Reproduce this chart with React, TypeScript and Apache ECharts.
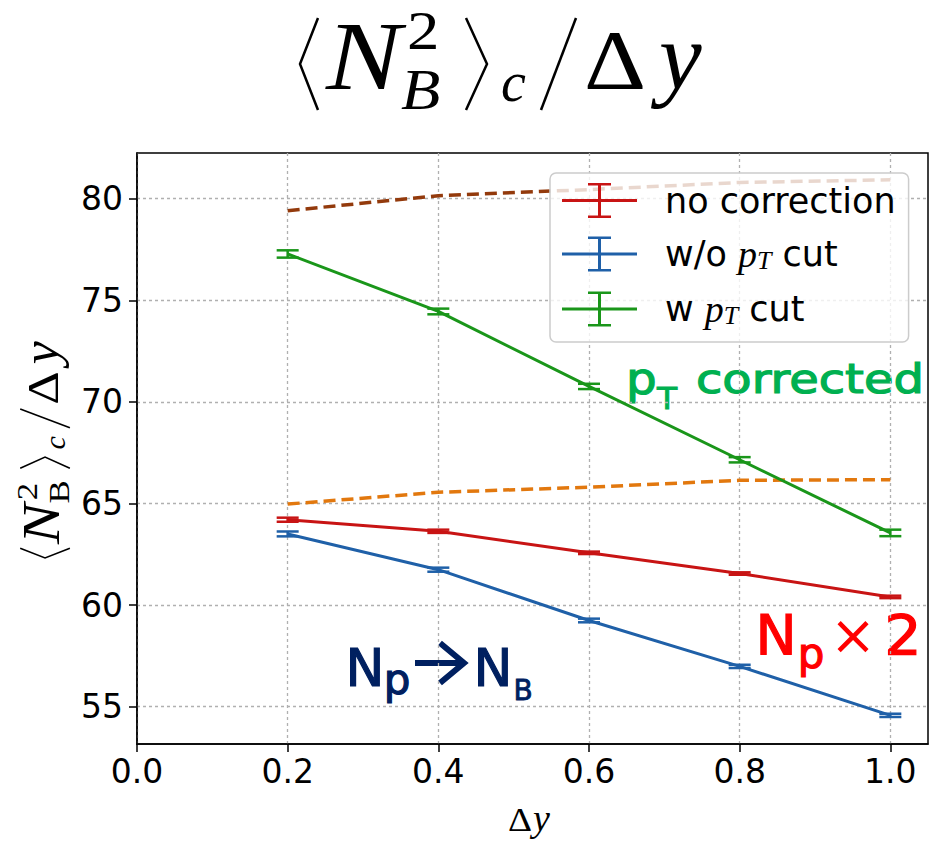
import React, { useEffect, useRef } from 'react';
import * as echarts from 'echarts';

// ---- data ----
const dy = [0.2, 0.4, 0.6, 0.8, 1.0];
const noCorrection = [64.2, 63.63, 62.57, 61.55, 60.4];
const noCorrectionErr = [0.1, 0.08, 0.06, 0.06, 0.06];
const woCut = [63.5, 61.74, 59.24, 56.98, 54.57];
const woCutErr = [0.12, 0.1, 0.09, 0.08, 0.08];
const wCut = [77.28, 74.45, 70.76, 67.15, 63.55];
const wCutErr = [0.18, 0.14, 0.13, 0.13, 0.16];
const dashedOrange = [64.97, 65.55, 65.8, 66.14, 66.17];
const dashedBrown = [79.41, 80.15, 80.45, 80.8, 80.93];
const xTicks = [0, 0.2, 0.4, 0.6, 0.8, 1.0];
const yTicks = [55, 60, 65, 70, 75, 80];
const legendNames = ['no correction', 'w/o pT cut', 'w pT cut'];

const RED = '#c81414';
const BLUE = '#1f60a8';
const GREEN = '#1a961a';
const ORANGE = '#e2780e';
const BROWN = '#933a0c';

const ERR_ICON =
  'path://M0,16L75,16L75,19L0,19Z M36,0L39,0L39,35L36,35Z M26,0L49,0L49,2.5L26,2.5Z M26,32.5L49,32.5L49,35L26,35Z';

const SERIF = 'Liberation Serif';
const SANS = 'DejaVu Sans';

function lineSeries(name: string, values: number[], color: string, z: number, dashed = false) {
  return {
    type: 'line',
    name,
    data: dy.map((x, i) => [x, values[i]]),
    showSymbol: false,
    symbol: 'none',
    silent: true,
    z,
    itemStyle: { color },
    lineStyle: dashed ? { color, width: 3.5, type: [12, 6] } : { color, width: 3 },
  };
}

function errSeries(name: string, values: number[], errs: number[], color: string, z: number) {
  return {
    type: 'custom',
    name,
    z,
    silent: true,
    data: dy.map((x, i) => [x, values[i], errs[i]]),
    encode: { x: 0, y: 1 },
    renderItem: (_params: any, api: any) => {
      const x = api.value(0);
      const y = api.value(1);
      const e = api.value(2);
      const t = api.coord([x, y + e]);
      const b = api.coord([x, y - e]);
      const hw = 11;
      const st = { stroke: color, lineWidth: 2.5 };
      return {
        type: 'group',
        children: [
          { type: 'line', shape: { x1: t[0], y1: t[1], x2: b[0], y2: b[1] }, style: st },
          { type: 'line', shape: { x1: t[0] - hw, y1: t[1], x2: t[0] + hw, y2: t[1] }, style: st },
          { type: 'line', shape: { x1: b[0] - hw, y1: b[1], x2: b[0] + hw, y2: b[1] }, style: st },
        ],
      };
    },
  };
}

function txt(
  text: string,
  x: number,
  baseline: number,
  size: number,
  opts: {
    italic?: boolean; family?: string; color?: string; bold?: boolean; align?: string; scaleX?: number; strokeW?: number;
  } = {}
) {
  const fill = opts.color ?? '#000';
  const style: any = {
    text,
    fontSize: size,
    fontFamily: opts.family ?? SERIF,
    fontStyle: opts.italic ? 'italic' : 'normal',
    fontWeight: opts.bold ? 'bold' : 'normal',
    fill,
    align: opts.align ?? 'left',
    verticalAlign: 'middle',
  };
  if (opts.strokeW) {
    style.stroke = fill;
    style.lineWidth = opts.strokeW;
  }
  return { type: 'text', x, y: baseline - 0.33 * size, scaleX: opts.scaleX ?? 1, style };
}

function pl(points: number[][], lw: number, color = '#000') {
  return { type: 'polyline', shape: { points }, style: { stroke: color, lineWidth: lw, fill: null } };
}

// <N_B^2>_c / Δy laid out around baseline y = 0
function formula(romanB: boolean, lw: number) {
  return [
    pl([[18, -70], [0, -24], [18, 22]], lw),
    txt('N', 26, 0, 98, { italic: true, scaleX: 1.15 }),
    txt('2', 107, -39, 54, { scaleX: 1.2 }),
    txt('B', 101, 20, 56, { italic: !romanB, scaleX: 1.15 }),
    pl([[166, -70], [187, -24], [166, 22]], lw),
    txt('c', 201, 12, 56, { italic: true }),
    pl([[241, 22], [276, -70]], lw),
    txt('Δ', 284, 0, 84, { scaleX: 1.15 }),
    txt('y', 359, 0, 96, { italic: true }),
  ];
}

const axisCommon = {
  axisLine: { show: true, onZero: false, lineStyle: { color: '#000', width: 1.5 } },
  splitLine: { show: true, lineStyle: { color: '#b0b0b0', width: 1.3, type: [3, 3] } },
};

export default function App() {
  const ref = useRef<HTMLDivElement>(null);
  useEffect(() => {
    if (!ref.current) return;
    const chart = echarts.init(ref.current, undefined, { renderer: 'svg' });
    const GREEN_T = '#00b050';
    const RED_T = '#ff0000';
    const NAVY = '#002060';
    const ann = (color: string, extra: any = {}) => ({ family: SANS, color, strokeW: 1.2, ...extra });
    const option: any = {
      animation: false,
      backgroundColor: '#fff',
      grid: {
        left: 137, right: 4, top: 153, bottom: 98,
        show: true, borderColor: '#000', borderWidth: 1.5, backgroundColor: 'transparent',
      },
      xAxis: {
        type: 'value', min: 0, max: 1.05, interval: 0.2,
        ...axisCommon,
        axisTick: { show: true, length: 8, customValues: xTicks, lineStyle: { color: '#000', width: 1.5 } },
        axisLabel: {
          customValues: xTicks,
          formatter: (v: number) => v.toFixed(1),
          fontSize: 33, fontFamily: SANS, color: '#000', margin: 11,
        },
      },
      yAxis: {
        type: 'value', min: 53.16, max: 82.25,
        ...axisCommon,
        axisTick: { show: true, length: 8, customValues: yTicks, lineStyle: { color: '#000', width: 1.5 } },
        axisLabel: {
          customValues: yTicks,
          formatter: (v: number) => String(Math.round(v)),
          fontSize: 33, fontFamily: SANS, color: '#000', margin: 14,
        },
      },
      legend: {
        data: legendNames.map((n) => ({ name: n, icon: ERR_ICON })),
        orient: 'vertical',
        left: 550, top: 173,
        itemWidth: 75, itemHeight: 35, itemGap: 17,
        padding: [10, 13, 14, 12],
        backgroundColor: 'rgba(255,255,255,0.8)',
        borderColor: '#cccccc', borderWidth: 1.5, borderRadius: 6,
        selectedMode: false,
        itemStyle: { borderWidth: 0 },
        formatter: (n: string) =>
          n === 'no correction' ? 'no correction' : n === 'w/o pT cut' ? 'w/o {m|p}{s|T} cut' : 'w {m|p}{s|T} cut',
        textStyle: {
          fontSize: 35, fontFamily: SANS, color: '#000', padding: [0, 0, 0, 23],
          rich: {
            m: { fontFamily: SERIF, fontStyle: 'italic', fontSize: 38, color: '#000' },
            s: { fontFamily: SERIF, fontStyle: 'italic', fontSize: 26, color: '#000', verticalAlign: 'bottom' },
          },
        },
      },
      series: [
        lineSeries('brown dashed', dashedBrown, BROWN, 2, true),
        lineSeries('orange dashed', dashedOrange, ORANGE, 2, true),
        lineSeries('no correction', noCorrection, RED, 3),
        errSeries('err no correction', noCorrection, noCorrectionErr, RED, 4),
        lineSeries('w/o pT cut', woCut, BLUE, 3),
        errSeries('err w/o pT cut', woCut, woCutErr, BLUE, 4),
        lineSeries('w pT cut', wCut, GREEN, 3),
        errSeries('err w pT cut', wCut, wCutErr, GREEN, 4),
      ],
      graphic: [
        // title
        { type: 'group', x: 300, y: 88, children: formula(false, 2.5) },
        // y axis label (rotated)
        { type: 'group', x: 58, y: 558, rotation: Math.PI / 2, scaleX: 0.54, scaleY: 0.54, children: formula(true, 3) },
        // x axis label
        txt('Δ', 508, 831, 34, { scaleX: 1.1 }),
        txt('y', 533, 831, 38, { italic: true }),
        // pT corrected
        txt('p', 626, 393, 44, ann(GREEN_T, { scaleX: 1.1 })),
        txt('T', 657, 408, 30, ann(GREEN_T, { scaleX: 1.1, strokeW: 0.8 })),
        txt('corrected', 696, 393, 41, ann(GREEN_T, { scaleX: 1.17 })),
        // Np x 2
        txt('N', 776, 653, 55, ann(RED_T, { align: 'center' })),
        txt('p', 811, 667, 42, ann(RED_T, { align: 'center' })),
        txt('×', 853, 653, 55, { family: SANS, color: RED_T, align: 'center' }),
        txt('2', 903, 653, 56, ann(RED_T, { align: 'center', scaleX: 1.05 })),
        // Np -> NB
        txt('N', 365, 685, 52, ann(NAVY, { align: 'center' })),
        txt('p', 397, 693, 42, ann(NAVY, { align: 'center' })),
        pl([[415, 663], [462, 663]], 6, NAVY),
        pl([[440, 643], [464, 663], [440, 683]], 6, NAVY),
        txt('N', 493, 685, 52, ann(NAVY, { align: 'center' })),
        txt('B', 523, 700, 28, ann(NAVY, { align: 'center', strokeW: 0.8 })),
      ],
    };
    chart.setOption(option);
    return () => chart.dispose();
  }, []);
  return <div ref={ref} style={{ position: 'fixed', left: 0, top: 0, width: 932, height: 842 }} />;
}
